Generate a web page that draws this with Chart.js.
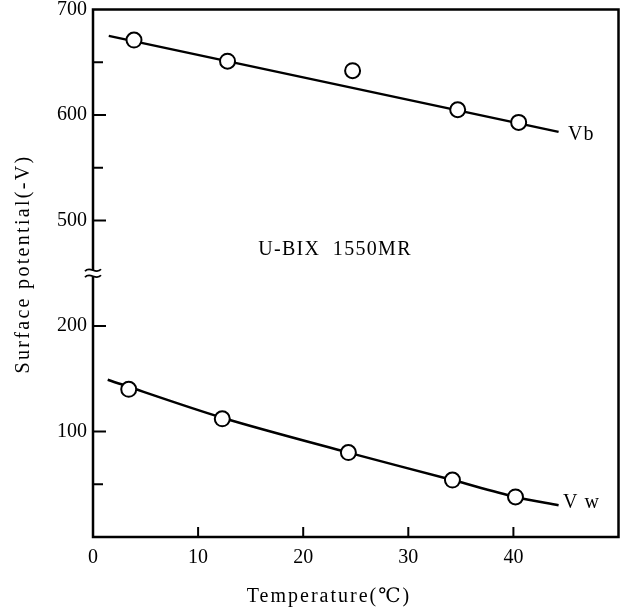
<!DOCTYPE html>
<html>
<head>
<meta charset="utf-8">
<script src="https://cdn.jsdelivr.net/npm/chart.js@4.4.0/dist/chart.umd.min.js"></script>
<style>
  body { margin: 0; background: #fff; }
  #wrap { width: 628px; height: 612px; }
</style>
</head>
<body>
<div id="wrap"><canvas id="chart" width="628" height="612"></canvas></div>
<script>
// measured points (temperature in C, surface potential in -V)
const tempVb = [3.9, 12.8, 24.7, 34.7, 40.5]
const potVb = [671, 651, 642, 605, 593]
const tempVw = [3.4, 12.3, 24.3, 34.2, 40.2]
const potVw = [140, 112, 80, 54, 38]

// drawn fit lines
const fitTempVb = [1.5, 44.3]
const fitVb = [675, 584]
const fitTempVw = [1.4, 12.3, 24.3, 34.2, 40.2, 44.3]
const fitVw = [149, 113, 80, 54, 38, 30]

const xTicks = [0, 10, 20, 30, 40]
const yTicksShown = [100, 200, 500, 600, 700]
const yTicksMinor = [50, 550, 650]

// broken axis: values above the break are shifted down by 200
const BREAK_SHIFT = 200
const BREAK_AT = 250
const toAxis = v => v >= 400 ? v - BREAK_SHIFT : v
const fromAxis = v => v > BREAK_AT ? v + BREAK_SHIFT : v

const pts = (xs, ys) => xs.map((x, i) => ({ x: x, y: toAxis(ys[i]) }))

const serif = '"Liberation Serif", "DejaVu Serif", serif'

const decor = {
    id: 'decor',
    afterDraw(chart) {
        const c = chart.ctx
        const a = chart.chartArea
        const xs = chart.scales.x
        const ys = chart.scales.y
        c.save()
        c.strokeStyle = '#000'
        c.lineWidth = 2.5
        c.strokeRect(a.left, a.top, a.right - a.left, a.bottom - a.top)

        // inward ticks
        c.lineWidth = 2
        xTicks.slice(1).forEach(t => {
            const px = xs.getPixelForValue(t)
            c.beginPath(); c.moveTo(px, a.bottom); c.lineTo(px, a.bottom - 10); c.stroke()
        })
        yTicksShown.slice(0, -1).forEach(t => {
            const py = ys.getPixelForValue(toAxis(t))
            c.beginPath(); c.moveTo(a.left, py); c.lineTo(a.left + 13, py); c.stroke()
        })
        yTicksMinor.forEach(t => {
            const py = ys.getPixelForValue(toAxis(t))
            c.beginPath(); c.moveTo(a.left, py); c.lineTo(a.left + 10, py); c.stroke()
        })

        // break mark
        const by = ys.getPixelForValue(BREAK_AT)
        c.fillStyle = '#fff'
        c.fillRect(a.left - 3, by - 3, 6, 6)
        c.lineWidth = 1.8
        ;[-3, 3].forEach(d => {
            c.beginPath()
            c.moveTo(a.left - 8, by + d + 1)
            c.bezierCurveTo(a.left - 3, by + d - 5, a.left + 3, by + d + 5, a.left + 8, by + d - 1)
            c.stroke()
        })

        c.fillStyle = '#000'
        c.textBaseline = 'middle'
        c.font = '20px ' + serif
        c.letterSpacing = '1.3px'
        c.textAlign = 'center'
        c.fillText('U-BIX  1550MR', 335, 250)
        c.letterSpacing = '1px'
        c.textAlign = 'left'
        c.fillText('Vb', 568, 135)
        c.fillText('V w', 563, 503)
        c.letterSpacing = '2px'
        c.textAlign = 'center'
        c.fillText('Temperature(\u2103)', 329, 597)
        c.letterSpacing = '2.3px'
        c.translate(24, 264)
        c.rotate(-Math.PI / 2)
        c.fillText('Surface potential(-V)', 0, 0)
        c.restore()
    }
}

new Chart(document.getElementById('chart'), {
    type: 'scatter',
    data: {
        datasets: [
            {
                label: 'Vb',
                data: pts(tempVb, potVb),
                pointRadius: 7.5,
                pointBackgroundColor: '#fff',
                pointBorderColor: '#000',
                pointBorderWidth: 2,
                order: 0
            },
            {
                label: 'Vw',
                data: pts(tempVw, potVw),
                pointRadius: 7.5,
                pointBackgroundColor: '#fff',
                pointBorderColor: '#000',
                pointBorderWidth: 2,
                order: 0
            },
            {
                label: 'Vb fit',
                data: pts(fitTempVb, fitVb),
                showLine: true,
                borderColor: '#000',
                borderWidth: 2.5,
                pointRadius: 0,
                order: 1
            },
            {
                label: 'Vw fit',
                data: pts(fitTempVw, fitVw),
                showLine: true,
                borderColor: '#000',
                borderWidth: 2.5,
                pointRadius: 0,
                tension: 0.3,
                order: 1
            }
        ]
    },
    options: {
        responsive: false,
        animation: false,
        layout: { padding: { top: 9, right: 9, left: 0, bottom: 0 } },
        scales: {
            x: {
                type: 'linear',
                min: 0,
                max: 50,
                afterBuildTicks: s => { s.ticks = xTicks.map(v => ({ value: v })) },
                afterFit: s => { s.height = 75; s.paddingLeft = 0; s.paddingRight = 0 },
                grid: { display: false, drawTicks: false },
                border: { display: false },
                ticks: { color: '#000', font: { family: serif, size: 20 }, padding: 9 }
            },
            y: {
                type: 'linear',
                min: 0,
                max: 500,
                afterBuildTicks: s => { s.ticks = yTicksShown.map(v => ({ value: toAxis(v) })) },
                afterFit: s => { s.width = 93; s.paddingTop = 0; s.paddingBottom = 0 },
                grid: { display: false, drawTicks: false },
                border: { display: false },
                ticks: {
                    color: '#000',
                    font: { family: serif, size: 20 },
                    padding: 6,
                    callback: v => String(fromAxis(v))
                }
            }
        },
        plugins: {
            legend: { display: false },
            tooltip: { enabled: false }
        }
    },
    plugins: [decor]
})
</script>
</body>
</html>
